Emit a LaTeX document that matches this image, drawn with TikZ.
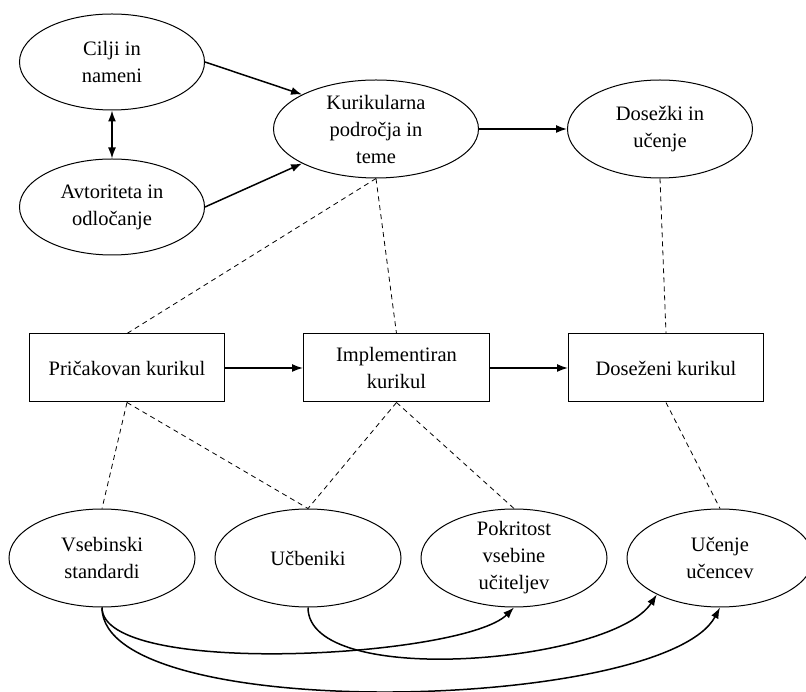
\documentclass[tikz,border=0pt]{standalone}
\usepackage{fontspec}
\setmainfont{Liberation Serif}
\usetikzlibrary{shapes.geometric,arrows.meta,positioning}
\tikzstyle{topic} = [ellipse, draw=black, line width=1pt, minimum width=185pt, minimum height=96pt, inner sep=-2pt, align=center]
\tikzstyle{curric} = [rectangle, draw=black, line width=1pt, minimum width=195pt, minimum height=68pt, align=center]
\tikzstyle{arrow} = [line width=1.5pt, -{Latex[length=11pt,width=8pt]}]
\tikzstyle{link} = [line width=0.8pt, dash pattern=on 5pt off 4pt]

\begin{document}
\begin{tikzpicture}[x=1pt, y=1pt, node distance=19pt, font=\fontsize{20.5}{27}\selectfont] % 1pt per pixel of the page
\useasboundingbox (0,0) rectangle (806,691);

% Upper row of topics
\node(cilji)    [topic]                                              at (112,629) {Cilji in\\nameni};
\node(avtor)    [topic,  below=48pt of cilji]                                     {Avtoriteta in\\odločanje};
\node(kurik)    [topic,  minimum width=205pt, minimum height=98pt]   at (376,562) {Kurikularna\\področja in\\teme};
\node(dosezki)  [topic,  minimum height=98pt, right=88pt of kurik]                {Dosežki in\\učenje};

% The three curricula
\node(prick)    [curric]                                             at (127,323) {Pričakovan kurikul};
\node(impl)     [curric, minimum width=186pt, right=78pt of prick]                {Implementiran\\kurikul};
\node(dosez)    [curric, right=78pt of impl]                                      {Doseženi kurikul};

% Lower row of topics
\node(vseb)     [topic,  minimum width=186pt, minimum height=98pt]   at (102,133) {Vsebinski\\standardi};
\node(ucb)      [topic,  minimum width=186pt, minimum height=98pt, right=of vseb] {Učbeniki};
\node(pokr)     [topic,  minimum width=186pt, minimum height=98pt, right=of ucb]  {Pokritost\\vsebine\\učiteljev};
\node(ucenje)   [topic,  minimum width=186pt, minimum height=98pt, right=of pokr] {Učenje\\učencev};

% Solid arrows
\draw [arrow, {Latex[length=11pt,width=8pt]}-{Latex[length=11pt,width=8pt]}] (cilji) -- (avtor);
\draw [arrow] (cilji.east)  -- (kurik.155);
\draw [arrow] (avtor.east)  -- (kurik.205);
\draw [arrow] (kurik)       -- (dosezki);
\draw [arrow] (prick)       -- (impl);
\draw [arrow] (impl)        -- (dosez);

% Dashed links
\draw [link] (kurik.south)   -- (prick.north);
\draw [link] (kurik.south)   -- (impl.north);
\draw [link] (dosezki.south) -- (dosez.north);
\draw [link] (prick.south)   -- (vseb.north);
\draw [link] (prick.south)   -- (ucb.north);
\draw [link] (impl.south)    -- (ucb.north);
\draw [link] (impl.south)    -- (pokr.north);
\draw [link] (dosez.south)   -- (ucenje.north);

% Curved arrows below
\draw [arrow] (vseb.south) to[out=-90, in=-135, looseness=0.44] (pokr.south);
\draw [arrow] (ucb.south)  to[out=-90, in=-123, looseness=0.6]  (ucenje.210);
\draw [arrow] (vseb.south) to[out=-90, in=-118, looseness=0.49] (ucenje.south);

\end{tikzpicture}
\end{document}
